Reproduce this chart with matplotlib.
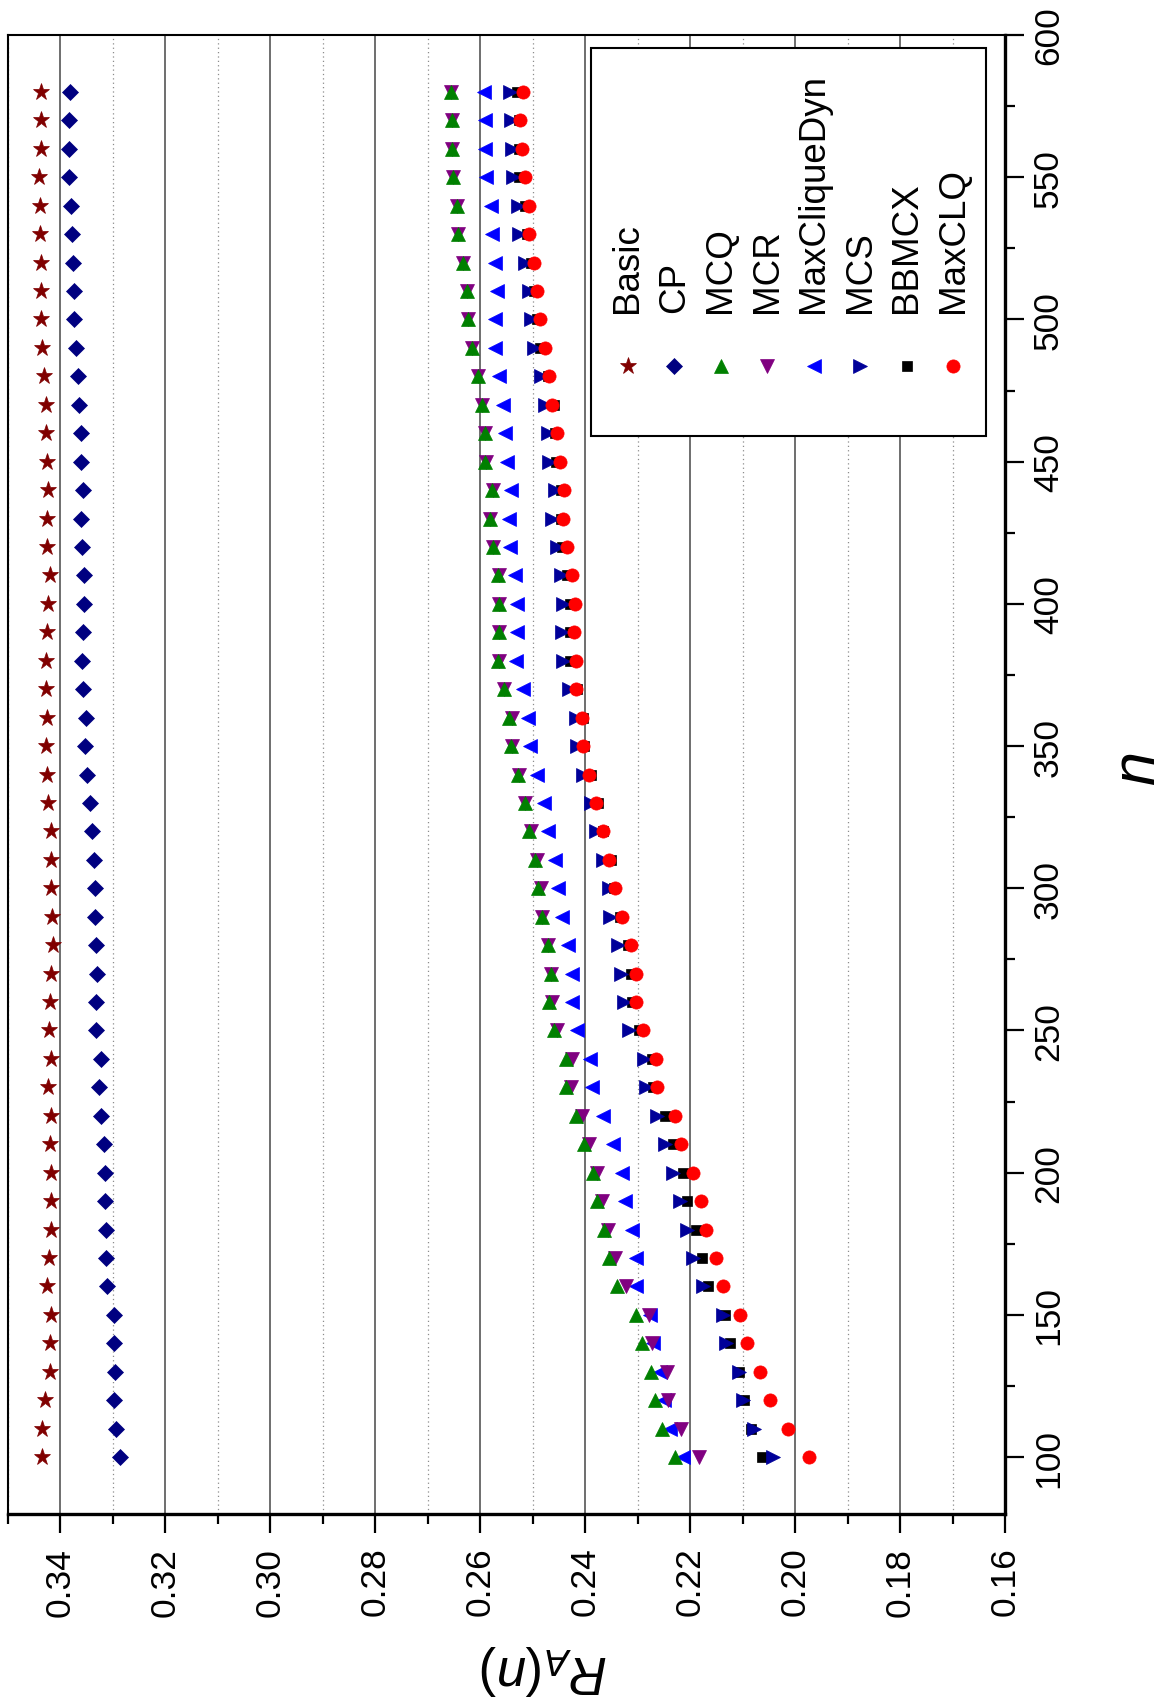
import matplotlib
matplotlib.use("Agg")
import matplotlib.pyplot as plt
from matplotlib.patches import Rectangle
from matplotlib.lines import Line2D
from matplotlib.ticker import MultipleLocator, FormatStrFormatter

plt.rcParams["font.family"] = ["Liberation Sans", "DejaVu Sans"]
plt.rcParams["mathtext.fontset"] = "custom"
plt.rcParams["mathtext.rm"] = "Liberation Sans"
plt.rcParams["mathtext.it"] = "Liberation Sans:italic"

# n values (descending, as read top to bottom)
N = [580, 570, 560, 550, 540, 530, 520, 510, 500, 490, 480, 470, 460, 450, 440,
     430, 420, 410, 400, 390, 380, 370, 360, 350, 340, 330, 320, 310, 300, 290,
     280, 270, 260, 250, 240, 230, 220, 210, 200, 190, 180, 170, 160, 150, 140,
     130, 120, 110, 100]

basic = [0.3436, 0.3437, 0.3437, 0.3440, 0.3439, 0.3439, 0.3436, 0.3436, 0.3436, 0.3434,
         0.3430, 0.3427, 0.3427, 0.3425, 0.3422, 0.3425, 0.3425, 0.3419, 0.3422, 0.3425,
         0.3427, 0.3427, 0.3425, 0.3427, 0.3425, 0.3422, 0.3418, 0.3417, 0.3417, 0.3416,
         0.3413, 0.3418, 0.3420, 0.3421, 0.3418, 0.3423, 0.3418, 0.3419, 0.3417, 0.3417,
         0.3418, 0.3421, 0.3424, 0.3417, 0.3420, 0.3420, 0.3429, 0.3434, 0.3434]
cp = [0.3381, 0.3382, 0.3382, 0.3382, 0.3379, 0.3378, 0.3375, 0.3374, 0.3373, 0.3370,
      0.3365, 0.3363, 0.3361, 0.3361, 0.3357, 0.3360, 0.3358, 0.3355, 0.3355, 0.3357,
      0.3358, 0.3356, 0.3350, 0.3352, 0.3348, 0.3343, 0.3340, 0.3335, 0.3333, 0.3333,
      0.3331, 0.3330, 0.3331, 0.3331, 0.3322, 0.3326, 0.3322, 0.3316, 0.3314, 0.3314,
      0.3313, 0.3313, 0.3311, 0.3297, 0.3298, 0.3296, 0.3297, 0.3293, 0.3286]
mcq = [0.2656, 0.2654, 0.2653, 0.2652, 0.2643, 0.2641, 0.2632, 0.2625, 0.2623, 0.2615,
       0.2604, 0.2596, 0.2590, 0.2590, 0.2578, 0.2581, 0.2575, 0.2566, 0.2563, 0.2564,
       0.2566, 0.2554, 0.2544, 0.2541, 0.2528, 0.2515, 0.2507, 0.2495, 0.2490, 0.2481,
       0.2471, 0.2465, 0.2469, 0.2460, 0.2436, 0.2436, 0.2417, 0.2401, 0.2384, 0.2378,
       0.2364, 0.2354, 0.2340, 0.2303, 0.2291, 0.2275, 0.2266, 0.2253, 0.2229]
mcr = [0.2656, 0.2654, 0.2653, 0.2652, 0.2643, 0.2641, 0.2632, 0.2625, 0.2623, 0.2615,
       0.2604, 0.2596, 0.2590, 0.2589, 0.2576, 0.2581, 0.2575, 0.2564, 0.2563, 0.2564,
       0.2564, 0.2554, 0.2540, 0.2540, 0.2526, 0.2514, 0.2503, 0.2491, 0.2483, 0.2481,
       0.2470, 0.2465, 0.2462, 0.2453, 0.2425, 0.2427, 0.2406, 0.2392, 0.2377, 0.2367,
       0.2356, 0.2343, 0.2322, 0.2279, 0.2273, 0.2244, 0.2241, 0.2218, 0.2182]
maxcliquedyn = [0.2593, 0.2591, 0.2591, 0.2589, 0.2580, 0.2577, 0.2571, 0.2568, 0.2571, 0.2571,
                0.2564, 0.2557, 0.2552, 0.2549, 0.2541, 0.2545, 0.2542, 0.2533, 0.2529, 0.2530,
                0.2531, 0.2519, 0.2509, 0.2505, 0.2492, 0.2479, 0.2471, 0.2458, 0.2451, 0.2443,
                0.2433, 0.2425, 0.2425, 0.2416, 0.2390, 0.2386, 0.2365, 0.2347, 0.2330, 0.2324,
                0.2310, 0.2303, 0.2302, 0.2277, 0.2271, 0.2257, 0.2249, 0.2238, 0.2214]
mcs = [0.2542, 0.2541, 0.2539, 0.2537, 0.2527, 0.2525, 0.2515, 0.2507, 0.2503, 0.2497,
       0.2484, 0.2476, 0.2470, 0.2468, 0.2457, 0.2462, 0.2454, 0.2445, 0.2441, 0.2443,
       0.2441, 0.2430, 0.2417, 0.2416, 0.2403, 0.2389, 0.2379, 0.2365, 0.2355, 0.2352,
       0.2338, 0.2331, 0.2326, 0.2317, 0.2287, 0.2284, 0.2263, 0.2248, 0.2232, 0.2219,
       0.2206, 0.2194, 0.2175, 0.2137, 0.2131, 0.2107, 0.2100, 0.2078, 0.2041]
bbmcx = [0.2529, 0.2526, 0.2525, 0.2525, 0.2515, 0.2511, 0.2502, 0.2497, 0.2492, 0.2486,
         0.2470, 0.2460, 0.2457, 0.2455, 0.2446, 0.2446, 0.2443, 0.2434, 0.2429, 0.2429,
         0.2429, 0.2415, 0.2403, 0.2402, 0.2389, 0.2376, 0.2365, 0.2350, 0.2344, 0.2333,
         0.2319, 0.2312, 0.2311, 0.2298, 0.2273, 0.2270, 0.2248, 0.2232, 0.2213, 0.2205,
         0.2189, 0.2178, 0.2166, 0.2133, 0.2124, 0.2106, 0.2098, 0.2084, 0.2062]
maxclq = [0.2519, 0.2523, 0.2520, 0.2515, 0.2507, 0.2507, 0.2497, 0.2491, 0.2486, 0.2477,
          0.2469, 0.2462, 0.2453, 0.2448, 0.2440, 0.2441, 0.2435, 0.2425, 0.2420, 0.2421,
          0.2418, 0.2417, 0.2405, 0.2403, 0.2392, 0.2379, 0.2366, 0.2354, 0.2343, 0.2329,
          0.2312, 0.2303, 0.2302, 0.2290, 0.2265, 0.2262, 0.2229, 0.2217, 0.2194, 0.2180,
          0.2170, 0.2151, 0.2137, 0.2105, 0.2091, 0.2067, 0.2048, 0.2013, 0.1973]

# name, values, marker, size, colour, zorder
SERIES = [
    ("Basic", basic, "*", 12.5, "#800000", 3),
    ("CP", cp, "D", 8.5, "#000080", 3),
    ("MCQ", mcq, "^", 10.5, "#008000", 5),
    ("MCR", mcr, "v", 10.5, "#800080", 4),
    ("MaxCliqueDyn", maxcliquedyn, "<", 10.5, "#0000ff", 3),
    ("MCS", mcs, ">", 10.5, "#000099", 4),
    ("BBMCX", bbmcx, "s", 7.5, "#000000", 3),
    ("MaxCLQ", maxclq, "o", 9.5, "#ff0000", 5),
]

fig = plt.figure(figsize=(11.76, 17.08), dpi=100)
ax = fig.add_axes([0.0064, 0.1130, 0.8482, 0.8659])

for name, vals, mk, ms, col, z in SERIES:
    ax.plot(vals, N, linestyle="none", marker=mk, markersize=ms, color=col,
            markeredgecolor=col, markeredgewidth=0.5, zorder=z)

ax.set_xlim(0.35, 0.16)
ax.set_ylim(80, 600)
ax.xaxis.set_major_locator(MultipleLocator(0.02))
ax.xaxis.set_minor_locator(MultipleLocator(0.01))
ax.xaxis.set_major_formatter(FormatStrFormatter("%.2f"))
ax.yaxis.set_major_locator(MultipleLocator(50))
ax.yaxis.set_minor_locator(MultipleLocator(25))
ax.yaxis.set_major_formatter(FormatStrFormatter("%d"))
ax.yaxis.tick_right()

ax.set_axisbelow(True)
ax.grid(which="major", axis="x", color="#555555", linewidth=1.2, linestyle="-")
ax.grid(which="minor", axis="x", color="#8c8c8c", linewidth=0.9, linestyle=(0, (1, 2.5)))

ax.tick_params(axis="both", which="major", direction="out", length=13.5, width=1.6,
               labelsize=25.5, labelrotation=90)
ax.tick_params(axis="both", which="minor", direction="out", length=7.5, width=1.6)
ax.tick_params(axis="x", which="major", pad=10)
ax.tick_params(axis="y", which="major", pad=6)
for t in ax.yaxis.get_major_ticks():
    t.label2.set_verticalalignment("center")

for side in ("bottom", "right"):
    ax.spines[side].set_linewidth(2.4)
for side in ("top", "left"):
    ax.spines[side].set_linewidth(1.5)

ax.text(0.538, -0.105, r"$R_A(n)$", rotation=180, fontsize=38,
        ha="center", va="center", transform=ax.transAxes)
ax.text(1.135, 0.504, r"$n$", rotation=90, fontsize=44,
        ha="center", va="center", transform=ax.transAxes)

# legend drawn by hand (rotated entries)
ax.add_patch(Rectangle((0.585, 0.729), 0.396, 0.262, transform=ax.transAxes,
                       facecolor="white", edgecolor="black", linewidth=1.5, zorder=8))
for i, (name, vals, mk, ms, col, z) in enumerate(SERIES):
    lx = 0.622 + i * 0.0466
    ax.add_line(Line2D([lx], [0.776], transform=ax.transAxes, marker=mk, markersize=ms,
                       color=col, markeredgecolor=col, markeredgewidth=0.5,
                       linestyle="none", zorder=9, clip_on=False))
    ax.text(lx, 0.813, name, rotation=90, fontsize=26.5, ha="center", va="bottom",
            transform=ax.transAxes, zorder=9)

fig.savefig("out.png", dpi=100, facecolor="white")
